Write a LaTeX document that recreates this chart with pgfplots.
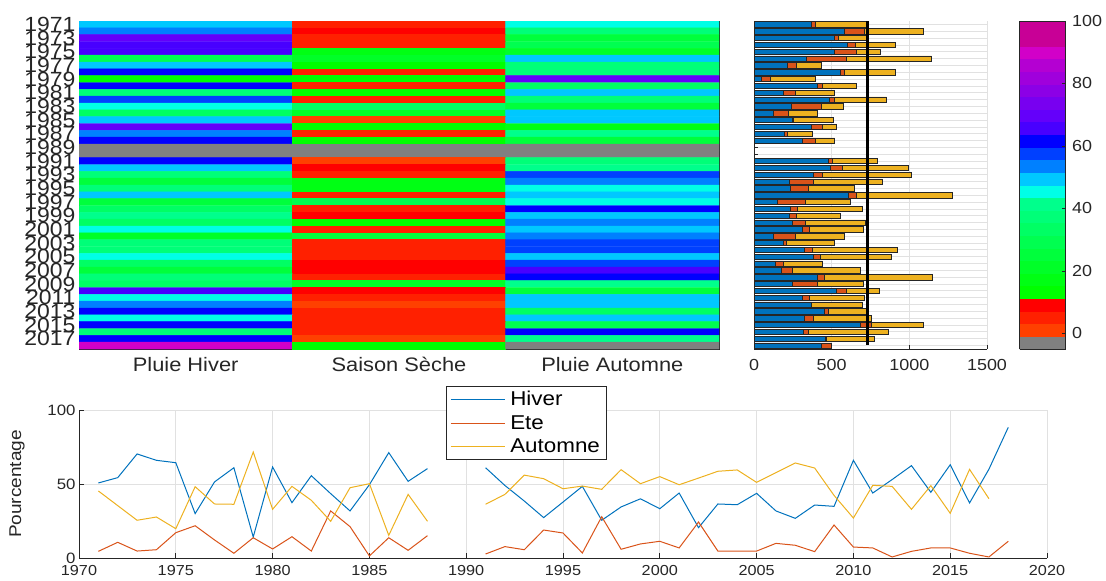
\documentclass[border=0pt]{standalone}
\usepackage{fontspec}
\setmainfont{Liberation Sans}[FakeStretch=1.12]
\usepackage{pgfplots}
\usepackage{pgfplotstable}
\pgfplotsset{compat=1.18}
\definecolor{mblue}{RGB}{0,114,189}
\definecolor{morange}{RGB}{217,83,25}
\definecolor{myellow}{RGB}{237,177,32}
\definecolor{axgray}{RGB}{38,38,38}
\definecolor{gridgray}{RGB}{225,225,225}

% percentages (line chart)
\pgfplotstableread[row sep=\\]{
year h e a \\
1971 50.7 4.5 45.3 \\
1972 54.3 10.6 35.4 \\
1973 70.3 4.7 25.5 \\
1974 66.0 5.6 27.7 \\
1975 64.4 17.1 19.8 \\
1976 30.0 21.8 48.2 \\
1977 51.4 12.2 36.5 \\
1978 61.0 3.2 36.3 \\
1979 14.2 13.7 71.6 \\
1980 61.5 6.1 32.9 \\
1981 37.4 14.4 48.4 \\
1982 55.6 4.7 39.0 \\
1983 43.5 31.8 24.8 \\
1984 31.8 21.2 47.5 \\
1985 49.5 1.4 50.2 \\
1986 71.2 13.7 15.3 \\
1987 51.8 5.2 43.0 \\
1988 60.4 15.1 24.8 \\
1989 nan nan nan \\
1990 nan nan nan \\
1991 61.0 2.7 36.3 \\
1992 49.0 7.7 43.0 \\
1993 38.5 5.6 56.0 \\
1994 27.3 18.9 53.6 \\
1995 37.8 16.9 46.8 \\
1996 48.4 3.4 48.6 \\
1997 25.5 27.9 46.4 \\
1998 34.5 5.9 59.7 \\
1999 40.0 9.5 50.2 \\
2000 33.3 11.3 55.0 \\
2001 43.9 6.8 49.5 \\
2002 20.5 24.3 54.0 \\
2003 36.5 4.7 58.6 \\
2004 36.0 4.7 59.5 \\
2005 43.7 4.7 51.1 \\
2006 31.8 9.9 57.7 \\
2007 26.8 8.6 64.2 \\
2008 35.8 4.3 60.8 \\
2009 34.9 22.3 42.3 \\
2010 66.0 7.4 27.0 \\
2011 43.9 6.8 49.1 \\
2012 53.0 0.7 48.4 \\
2013 62.4 4.5 32.9 \\
2014 44.4 6.8 48.9 \\
2015 63.0 6.8 30.2 \\
2016 37.2 3.2 59.9 \\
2017 60.0 0.7 40.1 \\
2018 88.3 11.3 nan \\
}\pct

% rainfall in mm (stacked bars)
\pgfplotstableread[row sep=\\]{
year h e a \\
1971 366 30 325 \\
1972 581 127 379 \\
1973 517 26 179 \\
1974 601 54 256 \\
1975 517 140 159 \\
1976 338 254 551 \\
1977 215 58 159 \\
1978 553 28 329 \\
1979 45 58 293 \\
1980 407 34 217 \\
1981 187 78 252 \\
1982 482 32 340 \\
1983 243 189 142 \\
1984 123 97 187 \\
1985 248 4 256 \\
1986 368 75 84 \\
1987 198 17 161 \\
1988 310 88 121 \\
1991 480 26 291 \\
1992 489 78 428 \\
1993 385 56 571 \\
1994 226 159 441 \\
1995 235 114 299 \\
1996 609 47 618 \\
1997 151 179 289 \\
1998 235 47 413 \\
1999 228 45 280 \\
2000 245 84 390 \\
2001 310 47 347 \\
2002 123 142 319 \\
2003 189 19 308 \\
2004 327 50 543 \\
2005 385 45 452 \\
2006 140 47 254 \\
2007 177 67 439 \\
2008 405 47 693 \\
2009 248 157 299 \\
2010 527 65 215 \\
2011 310 45 355 \\
2012 366 5 327 \\
2013 450 28 247 \\
2014 325 60 372 \\
2015 685 73 329 \\
2016 317 30 515 \\
2017 461 5 306 \\
2018 431 65 0 \\
}\mm

% heatmap (column, year, value; -3 = missing)
\pgfplotstableread[row sep=\\]{
c y v \\
0 1971 50.7 \\ 1 1971 4.5 \\ 2 1971 45.3 \\
0 1972 54.3 \\ 1 1972 10.6 \\ 2 1972 35.4 \\
0 1973 70.3 \\ 1 1973 4.7 \\ 2 1973 25.5 \\
0 1974 66.0 \\ 1 1974 5.6 \\ 2 1974 27.7 \\
0 1975 64.4 \\ 1 1975 17.1 \\ 2 1975 19.8 \\
0 1976 30.0 \\ 1 1976 21.8 \\ 2 1976 48.2 \\
0 1977 51.4 \\ 1 1977 12.2 \\ 2 1977 36.5 \\
0 1978 61.0 \\ 1 1978 3.2 \\ 2 1978 36.3 \\
0 1979 14.2 \\ 1 1979 13.7 \\ 2 1979 71.6 \\
0 1980 61.5 \\ 1 1980 6.1 \\ 2 1980 32.9 \\
0 1981 37.4 \\ 1 1981 14.4 \\ 2 1981 48.4 \\
0 1982 55.6 \\ 1 1982 4.7 \\ 2 1982 39.0 \\
0 1983 43.5 \\ 1 1983 31.8 \\ 2 1983 24.8 \\
0 1984 31.8 \\ 1 1984 21.2 \\ 2 1984 47.5 \\
0 1985 49.5 \\ 1 1985 1.4 \\ 2 1985 50.2 \\
0 1986 71.2 \\ 1 1986 13.7 \\ 2 1986 15.3 \\
0 1987 51.8 \\ 1 1987 5.2 \\ 2 1987 43.0 \\
0 1988 60.4 \\ 1 1988 15.1 \\ 2 1988 24.8 \\
0 1989 -3 \\ 1 1989 -3 \\ 2 1989 -3 \\
0 1990 -3 \\ 1 1990 -3 \\ 2 1990 -3 \\
0 1991 61.0 \\ 1 1991 2.7 \\ 2 1991 36.3 \\
0 1992 49.0 \\ 1 1992 7.7 \\ 2 1992 43.0 \\
0 1993 38.5 \\ 1 1993 5.6 \\ 2 1993 56.0 \\
0 1994 27.3 \\ 1 1994 18.9 \\ 2 1994 53.6 \\
0 1995 37.8 \\ 1 1995 16.9 \\ 2 1995 46.8 \\
0 1996 48.4 \\ 1 1996 3.4 \\ 2 1996 48.6 \\
0 1997 25.5 \\ 1 1997 27.9 \\ 2 1997 46.4 \\
0 1998 34.5 \\ 1 1998 5.9 \\ 2 1998 59.7 \\
0 1999 40.0 \\ 1 1999 9.5 \\ 2 1999 50.2 \\
0 2000 33.3 \\ 1 2000 11.3 \\ 2 2000 55.0 \\
0 2001 43.9 \\ 1 2001 6.8 \\ 2 2001 49.5 \\
0 2002 20.5 \\ 1 2002 24.3 \\ 2 2002 54.0 \\
0 2003 36.5 \\ 1 2003 4.7 \\ 2 2003 58.6 \\
0 2004 36.0 \\ 1 2004 4.7 \\ 2 2004 59.5 \\
0 2005 43.7 \\ 1 2005 4.7 \\ 2 2005 51.1 \\
0 2006 31.8 \\ 1 2006 9.9 \\ 2 2006 57.7 \\
0 2007 26.8 \\ 1 2007 8.6 \\ 2 2007 64.2 \\
0 2008 35.8 \\ 1 2008 4.3 \\ 2 2008 60.8 \\
0 2009 34.9 \\ 1 2009 22.3 \\ 2 2009 42.3 \\
0 2010 66.0 \\ 1 2010 7.4 \\ 2 2010 27.0 \\
0 2011 43.9 \\ 1 2011 6.8 \\ 2 2011 49.1 \\
0 2012 53.0 \\ 1 2012 0.7 \\ 2 2012 48.4 \\
0 2013 62.4 \\ 1 2013 4.5 \\ 2 2013 32.9 \\
0 2014 44.4 \\ 1 2014 6.8 \\ 2 2014 48.9 \\
0 2015 63.0 \\ 1 2015 6.8 \\ 2 2015 30.2 \\
0 2016 37.2 \\ 1 2016 3.2 \\ 2 2016 59.9 \\
0 2017 60.0 \\ 1 2017 0.7 \\ 2 2017 40.1 \\
0 2018 88.3 \\ 1 2018 11.3 \\ 2 2018 -3 \\
}\heat

\pgfplotsset{
  /pgf/number format/assume math mode=true,
  /pgf/number format/1000 sep={},
}

\begin{document}
\begin{tikzpicture}
\path[use as bounding box] (0,0) rectangle (1106pt,-581pt);

% ---------------- heatmap + colorbar
\begin{axis}[
  at={(79pt,-21pt)}, anchor=north west,
  scale only axis, width=640pt, height=328pt,
  xmin=-0.5, xmax=2.5, ymin=1970.5, ymax=2018.5, y dir=reverse,
  enlargelimits=false,
  xtick={0,1,2}, xticklabels={Pluie Hiver, Saison Sèche, Pluie Automne},
  ytick={1971,...,2018},
  yticklabels={1971,,1973,,1975,,1977,,1979,,1981,,1983,,1985,,1987,,1989,,1991,,1993,,1995,,1997,,1999,,2001,,2003,,2005,,2007,,2009,,2011,,2013,,2015,,2017,},
  tick align=inside, major tick length=4pt,
  yticklabel style={font=\fontsize{20.5}{20.5}\selectfont, text=axgray},
  xticklabel style={font=\fontsize{19.5}{19.5}\selectfont, text=axgray, yshift=-5pt},
  axis line style={axgray, line width=0.8pt},
  every tick/.style={axgray, line width=0.8pt},
  colormap={heat}{
    rgb255=(128,128,128) rgb255=(255,64,0) rgb255=(255,32,0) rgb255=(255,0,0)
    rgb255=(0,255,0) rgb255=(0,255,20) rgb255=(0,255,40) rgb255=(0,255,60)
    rgb255=(0,255,80) rgb255=(0,255,100) rgb255=(0,255,120) rgb255=(0,255,140)
    rgb255=(0,255,230) rgb255=(0,200,255) rgb255=(0,128,255) rgb255=(0,64,255)
    rgb255=(0,0,255) rgb255=(72,0,255) rgb255=(100,0,250) rgb255=(120,0,240)
    rgb255=(140,0,230) rgb255=(160,0,220) rgb255=(180,0,210) rgb255=(210,0,200)
    rgb255=(200,0,150) rgb255=(200,0,150)},
  colormap access=piecewise constant,
  point meta min=-5, point meta max=100,
  colorbar,
  colorbar style={
    at={(parent axis.north east)}, anchor=north west, xshift=292pt,
    scale only axis, width=46pt, height=328pt,
    ytick={0,20,...,100}, ytick pos=right,
    tick align=inside, major tick length=4pt,
    yticklabel style={font=\fontsize{16}{16}\selectfont, text=axgray, xshift=3pt},
    axis line style={axgray, line width=0.8pt},
    every tick/.style={axgray, line width=0.8pt},
  },
]
\addplot[matrix plot*, mesh/cols=3, point meta=explicit] table[x=c, y=y, meta=v] {\heat};
\end{axis}

% ---------------- stacked bars
\begin{axis}[
  at={(754pt,-21pt)}, anchor=north west,
  scale only axis, width=233pt, height=328pt,
  xbar stacked, bar width=0.78,
  xmin=0, xmax=1500, ymin=1970.5, ymax=2018.5, y dir=reverse,
  axis x line*=bottom, axis y line*=left,
  axis line style={axgray, line width=0.8pt, -},
  xtick={0,500,1000,1500}, ytick={1971,...,2018}, yticklabels={},
  tick align=inside, major tick length=4pt,
  every tick/.style={axgray, line width=0.8pt},
  xmajorgrids, ymajorgrids, grid style={gridgray, line width=0.8pt},
  xticklabel style={font=\fontsize{16}{16}\selectfont, text=axgray, yshift=-7pt},
  bar shift=0pt,
]
\addplot[fill=mblue, draw=black!85, line width=0.7pt] table[x=h, y=year] {\mm};
\addplot[fill=morange, draw=black!85, line width=0.7pt] table[x=e, y=year] {\mm};
\addplot[fill=myellow, draw=black!85, line width=0.7pt] table[x=a, y=year] {\mm};
\end{axis}

% ---------------- mean line
\begin{axis}[
  at={(754pt,-21pt)}, anchor=north west,
  scale only axis, width=233pt, height=328pt,
  xmin=0, xmax=1500, ymin=1970.5, ymax=2018.5, y dir=reverse,
  hide axis,
]
\addplot[black, line width=3pt] coordinates {(733,1970.5) (733,2017.9)};
\end{axis}

% ---------------- line chart
\begin{axis}[
  at={(79pt,-410pt)}, anchor=north west,
  scale only axis, width=968pt, height=148pt,
  xmin=1970, xmax=2020, ymin=0, ymax=100,
  xtick={1970,1975,...,2020}, ytick={0,50,100},
  axis x line*=bottom, axis y line*=left,
  axis line style={axgray, line width=0.8pt, -},
  tick align=inside, major tick length=5pt,
  every tick/.style={axgray, line width=0.8pt},
  grid=major, grid style={gridgray, line width=0.8pt},
  xticklabel style={font=\fontsize{14.5}{14.5}\selectfont, text=axgray, yshift=-4pt},
  yticklabel style={font=\fontsize{15}{15}\selectfont, text=axgray},
  ylabel={Pourcentage},
  ylabel style={font=\fontsize{17}{17}\selectfont, text=axgray, at={(axis description cs:-0.064,0.5)}, anchor=center},
  unbounded coords=jump,
  legend style={at={(axis description cs:0.379,1.162)}, anchor=north west,
    draw=axgray, line width=0.8pt, font=\fontsize{20}{20}\selectfont,
    inner xsep=4pt, inner ysep=3pt, row sep=4pt, column sep=3pt,
    cells={anchor=west}},
  legend image code/.code={\draw[line width=1pt, #1] (0pt,0pt) -- (54pt,0pt);},
]
\addplot[color=mblue, line width=1pt] table[x=year, y=h] {\pct};
\addplot[color=morange, line width=1pt] table[x=year, y=e] {\pct};
\addplot[color=myellow, line width=1pt] table[x=year, y=a] {\pct};
\legend{Hiver, Ete, Automne}
\end{axis}
\end{tikzpicture}
\end{document}
